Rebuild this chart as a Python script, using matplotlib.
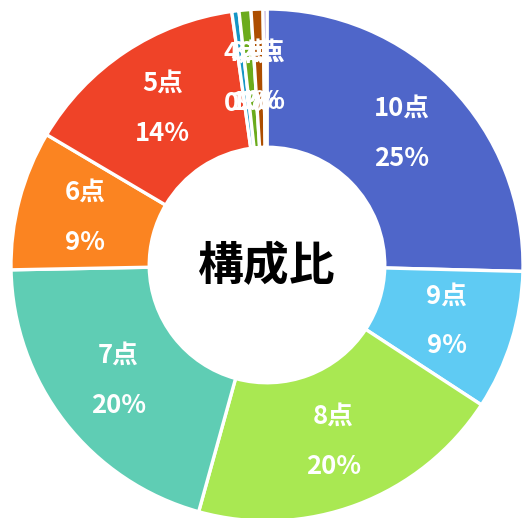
import matplotlib
matplotlib.use('Agg')
import numpy as np
from matplotlib import pyplot as plt

plt.rcParams['font.family'] = ['Noto Sans CJK JP', 'DejaVu Sans']

labels = ['10点', '9点', '8点', '7点', '6点', '5点', '4点', '3点', '2点', '1点']
shares = [25.4, 8.8, 20.1, 20.4, 8.8, 14.3, 0.45, 0.75, 0.75, 0.25]
colors = ['#4f66c9', '#5fcbf3', '#a9e852', '#5fcdb4', '#fb8421',
          '#ef4328', '#1596c6', '#6bab1c', '#ad4e00', '#8e6bbf']
center_title = '構成比'

fig = plt.figure(figsize=(5.24, 5.18), dpi=100)
ax = fig.add_axes([0, 0, 1, 1])

wedges, _ = ax.pie(shares, colors=colors, startangle=90, counterclock=False,
                   radius=1, wedgeprops=dict(width=0.54, edgecolor='white', linewidth=2.4))

total = sum(shares)
for w, lab, v in zip(wedges, labels, shares):
    ang = np.deg2rad((w.theta1 + w.theta2) / 2)
    x, y = 0.735 * np.cos(ang), 0.735 * np.sin(ang)
    pct = f'{round(v * 100 / total):.0f}%'
    ax.annotate(lab, (x, y), xytext=(0, 18), textcoords='offset points',
                ha='center', va='center', color='white', fontsize=18.5, fontweight='bold')
    ax.annotate(pct, (x, y), xytext=(0, -18), textcoords='offset points',
                ha='center', va='center', color='white', fontsize=18.5, fontweight='bold')

ax.text(0, -0.01, center_title, ha='center', va='center', fontsize=33, fontweight='bold', color='black')

ax.set_aspect('auto')
ax.set_xlim(-267 / 256, 257 / 256)
ax.set_ylim(-253 / 256, 265 / 256)
ax.axis('off')

plt.savefig('out.png', dpi=100)
